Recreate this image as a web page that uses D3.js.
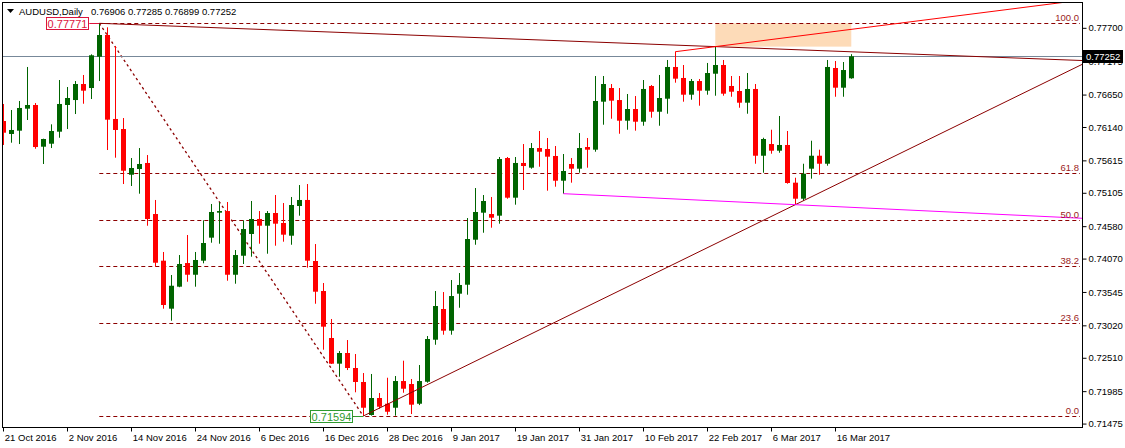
<!DOCTYPE html>
<html>
<head>
<meta charset="utf-8">
<script src="https://cdnjs.cloudflare.com/ajax/libs/d3/7.8.5/d3.min.js"></script>
<style>
  body { margin: 0; background: #fff; }
  svg { display: block; font-family: "Liberation Sans", Arial, sans-serif; }
</style>
</head>
<body>
<script>
const symbol = 'AUDUSD,Daily';
const firstDay = new Date(2016, 9, 21);

const openP = [0.76234,0.76030,0.76082,0.76428,0.76486,0.75830,0.75877,0.76066,0.76486,0.76564,
  0.76816,0.76753,0.77246,0.77587,0.76266,0.76108,0.75389,0.75479,0.75574,0.74771,
  0.74037,0.73282,0.73628,0.74000,0.73816,0.74037,0.74399,0.74792,0.74818,0.73816,
  0.74115,0.74457,0.74693,0.74587,0.74787,0.74630,0.74430,0.74897,0.74992,0.74032,
  0.73560,0.72821,0.72417,0.72585,0.72349,0.72129,0.71610,0.71877,0.71787,0.71724,
  0.72144,0.72097,0.71787,0.72133,0.72794,0.73277,0.72936,0.73518,0.73659,0.74367,
  0.74792,0.74771,0.74745,0.75652,0.75028,0.75574,0.75500,0.75809,0.75794,0.75684,
  0.75295,0.75558,0.75484,0.75825,0.75783,0.76538,0.76753,0.76564,0.76239,0.76423,
  0.76223,0.76785,0.76380,0.76585,0.77084,0.76911,0.76648,0.76863,0.76711,0.76978,
  0.77115,0.76785,0.76706,0.76522,0.76738,0.75688,0.75872,0.75767,0.75857,0.75264,
  0.75012,0.75484,0.75688,0.75562,0.77068,0.76758,0.76906];
const highP = [0.76502,0.76407,0.76549,0.77084,0.76517,0.75956,0.76182,0.76879,0.76769,0.76863,
  0.76958,0.77283,0.77771,0.77708,0.77414,0.76281,0.75652,0.75809,0.75699,0.74992,
  0.74174,0.73812,0.74126,0.74441,0.74174,0.74672,0.74929,0.74955,0.74960,0.74205,
  0.74672,0.74976,0.74818,0.74818,0.75070,0.74944,0.75039,0.75227,0.75243,0.74299,
  0.73686,0.73120,0.72616,0.72789,0.72569,0.72270,0.72255,0.71956,0.72196,0.72223,
  0.72464,0.72176,0.72396,0.72852,0.73560,0.73544,0.73733,0.73843,0.74708,0.75180,
  0.75070,0.75039,0.75668,0.75668,0.75668,0.75872,0.75888,0.76077,0.75967,0.75841,
  0.75715,0.75652,0.76045,0.75967,0.76942,0.76942,0.76816,0.76753,0.76659,0.76627,
  0.76879,0.76800,0.76958,0.77194,0.77324,0.77115,0.76895,0.76895,0.77147,0.77404,
  0.77194,0.76942,0.76942,0.76989,0.76816,0.75971,0.76097,0.76313,0.76077,0.75342,
  0.75562,0.75924,0.75783,0.77194,0.77178,0.77162,0.77285];
const lowP = [0.75857,0.75893,0.75872,0.76250,0.75798,0.75558,0.75809,0.75971,0.76108,0.76344,
  0.76506,0.76580,0.76863,0.75778,0.75657,0.75243,0.75212,0.75091,0.74587,0.73942,
  0.73282,0.73093,0.73620,0.73706,0.73628,0.73996,0.74320,0.74304,0.73722,0.73675,
  0.73985,0.74100,0.74304,0.74147,0.74273,0.74336,0.74288,0.74745,0.73927,0.73360,
  0.72637,0.72412,0.72212,0.72317,0.71967,0.71594,0.71600,0.71709,0.71614,0.71599,
  0.71960,0.71625,0.71766,0.72118,0.72715,0.72873,0.72873,0.73297,0.73502,0.74288,
  0.74477,0.74556,0.74619,0.75012,0.74918,0.75149,0.75484,0.75515,0.75138,0.75201,
  0.75091,0.75264,0.75421,0.75500,0.75751,0.76176,0.76270,0.76034,0.76097,0.76082,
  0.76160,0.76286,0.76160,0.76349,0.76837,0.76538,0.76569,0.76475,0.76648,0.76632,
  0.76632,0.76616,0.76443,0.76349,0.75562,0.75421,0.75720,0.75735,0.75248,0.74918,
  0.74980,0.75327,0.75389,0.75531,0.76616,0.76616,0.76899];
const closeP = [0.76050,0.76093,0.76439,0.76486,0.75825,0.75951,0.76077,0.76502,0.76596,0.76816,
  0.76711,0.77268,0.77587,0.76255,0.76093,0.75452,0.75495,0.75558,0.74693,0.74005,
  0.73340,0.73643,0.73985,0.73816,0.74048,0.74315,0.74803,0.74818,0.73816,0.74126,
  0.74535,0.74693,0.74587,0.74787,0.74619,0.74446,0.74913,0.74992,0.74037,0.73549,
  0.72999,0.72417,0.72585,0.72349,0.72129,0.71724,0.71877,0.71740,0.71661,0.72144,
  0.72023,0.71772,0.72144,0.72805,0.73324,0.72936,0.73481,0.73655,0.74378,0.74803,
  0.74976,0.74713,0.75636,0.75028,0.75574,0.75526,0.75809,0.75751,0.75673,0.75295,
  0.75448,0.75484,0.75809,0.75783,0.76549,0.76816,0.76554,0.76239,0.76423,0.76223,
  0.76738,0.76380,0.76596,0.77084,0.76900,0.76648,0.76863,0.76711,0.76989,0.77115,
  0.76664,0.76695,0.76522,0.76738,0.75688,0.75951,0.75767,0.75857,0.75259,0.75012,
  0.75405,0.75688,0.75562,0.77084,0.76758,0.77036,0.77252];

const yTicks = [0.77700,0.77175,0.76650,0.76140,0.75615,0.75105,0.74580,0.74070,0.73545,0.73020,0.72510,0.71985,0.71475];
const fibLevels = [0, 23.6, 38.2, 50, 61.8, 100];
const fibHigh = [12, 0.77771];
const fibLow = [45, 0.71594];
const trendDown = [[12, 0.77771], [89, 0.77404]];
const trendUp = [[45, 0.71594], [99, 0.74918]];
const trendMagenta = [[70, 0.75091], [99, 0.74918]];
const trendRed = [[84, 0.77324], [89, 0.77404]];
const zone = [[89, 0.77404], [106, 0.77771]];

(function () {
  const W = 1125, H = 448
  const L = 2, T = 2, R = 1082, B = 427
  const n = openP.length

  // weekday bars
  const dates = []
  let d = new Date(firstDay)
  while (dates.length < n) {
    if (d.getDay() !== 0 && d.getDay() !== 6) dates.push(new Date(d))
    d = d3.timeDay.offset(d, 1)
  }
  const fmt = d3.timeFormat('%-d %b %Y')

  const x = d3.scaleLinear().domain([0, n - 1]).range([3.3, 3.3 + 8 * (n - 1)])
  const y = d3.scaleLinear().domain([0.71594, 0.77771]).range([416, 23.3])

  const svg = d3.select('body').append('svg')
                .attr('width', W).attr('height', H)

  svg.append('defs').append('clipPath').attr('id', 'plot')
     .append('rect').attr('x', L + 1).attr('y', T + 1).attr('width', R - L - 1).attr('height', B - T - 1)

  const g = svg.append('g').attr('clip-path', 'url(#plot)')

  // rectangle zone
  g.append('rect')
   .attr('x', x(zone[0][0])).attr('y', y(zone[1][1]))
   .attr('width', x(zone[1][0]) - x(zone[0][0]))
   .attr('height', y(zone[0][1]) - y(zone[1][1]))
   .attr('fill', '#fddbb8')

  // fibo levels
  const fibPrice = lv => fibLow[1] + (fibHigh[1] - fibLow[1]) * lv / 100
  g.selectAll('line.fib').data(fibLevels).enter().append('line')
   .attr('x1', x(fibHigh[0])).attr('x2', R - 2)
   .attr('y1', lv => Math.round(y(fibPrice(lv))) + 0.5)
   .attr('y2', lv => Math.round(y(fibPrice(lv))) + 0.5)
   .attr('stroke', '#8b0000').attr('stroke-dasharray', '4,3')
  svg.selectAll('text.fib').data(fibLevels).enter().append('text')
     .attr('x', R - 3).attr('y', lv => Math.round(y(fibPrice(lv))) - 2)
     .attr('text-anchor', 'end').attr('font-size', '9.5px').attr('fill', '#9b1c1c')
     .text(lv => lv.toFixed(1))

  g.append('line')
   .attr('x1', x(fibHigh[0])).attr('y1', y(fibHigh[1]))
   .attr('x2', x(fibLow[0])).attr('y2', y(fibLow[1]))
   .attr('stroke', '#8b0000').attr('stroke-width', 1.3).attr('stroke-dasharray', '2.5,3')

  // bid line
  const last = closeP[n - 1]
  g.append('line')
   .attr('x1', L).attr('x2', R)
   .attr('y1', Math.round(y(last)) + 0.5).attr('y2', Math.round(y(last)) + 0.5)
   .attr('stroke', '#778899')

  // candles
  const bars = g.selectAll('g.bar').data(d3.range(n)).enter().append('g')
  const col = i => closeP[i] >= openP[i] ? '#006400' : '#ff0000'
  bars.append('rect')
      .attr('x', i => Math.round(x(i)))
      .attr('y', i => y(highP[i]))
      .attr('width', 1)
      .attr('height', i => y(lowP[i]) - y(highP[i]))
      .attr('fill', col)
  bars.append('rect')
      .attr('x', i => Math.round(x(i)) - 2)
      .attr('y', i => y(Math.max(openP[i], closeP[i])))
      .attr('width', 5)
      .attr('height', i => Math.max(1, Math.abs(y(openP[i]) - y(closeP[i]))))
      .attr('fill', col)

  // trend lines, extended to the right border
  const ray = (pts, color) => {
    const x1 = x(pts[0][0]), y1 = y(pts[0][1])
    const x2 = x(pts[1][0]), y2 = y(pts[1][1])
    const k = (y2 - y1) / (x2 - x1)
    g.append('line')
     .attr('x1', x1).attr('y1', y1)
     .attr('x2', R).attr('y2', y1 + k * (R - x1))
     .attr('stroke', color).attr('stroke-width', 1)
  }
  ray(trendDown, '#8b0000')
  ray(trendUp, '#8b0000')
  ray(trendMagenta, '#ff00ff')
  ray(trendRed, '#ff0000')

  // price labels at the extremes
  const priceTag = (pt, color) => {
    const px = x(pt[0]), py = y(pt[1])
    svg.append('line')
       .attr('x1', px - 10).attr('x2', px)
       .attr('y1', Math.round(py) + 0.5).attr('y2', Math.round(py) + 0.5)
       .attr('stroke', color)
    svg.append('rect')
       .attr('x', Math.round(px) - 52.5).attr('y', Math.round(py) - 5.5)
       .attr('width', 42).attr('height', 12)
       .attr('fill', '#fff').attr('stroke', color)
    svg.append('text')
       .attr('x', Math.round(px) - 31.5).attr('y', Math.round(py) + 4.5)
       .attr('text-anchor', 'middle').attr('font-size', '11px').attr('fill', color)
       .text(pt[1].toFixed(5))
  }
  priceTag(fibHigh, '#dc143c')
  priceTag(fibLow, '#2e9a2e')

  // frame
  svg.append('rect')
     .attr('x', L + 0.5).attr('y', T + 0.5)
     .attr('width', R - L).attr('height', B - T)
     .attr('fill', 'none').attr('stroke', '#000')

  // axes
  const yAxis = svg.append('g')
                   .attr('transform', `translate(${R + 0.5},0)`)
                   .call(d3.axisRight(y).tickValues(yTicks).tickFormat(d3.format('.5f')).tickSize(4).tickPadding(2))
  yAxis.select('.domain').remove()
  yAxis.selectAll('text').attr('font-size', '9.5px').attr('fill', '#000').attr('font-family', null)

  const xTicks = d3.range(0, n, 8)
  const xAxis = svg.append('g')
                   .attr('transform', `translate(0,${B + 0.5})`)
                   .call(d3.axisBottom(x).tickValues(xTicks).tickFormat(i => fmt(dates[i])).tickSize(4).tickPadding(3))
  xAxis.select('.domain').remove()
  xAxis.selectAll('.tick line').attr('transform', 'translate(-0.3,0)')
  xAxis.selectAll('text').attr('text-anchor', 'start').attr('x', 1)
       .attr('font-size', '9.5px').attr('fill', '#000').attr('font-family', null)

  // current price tag on the axis
  const ly = Math.round(y(last))
  svg.append('rect').attr('x', R + 1).attr('y', ly - 6).attr('width', 40).attr('height', 13).attr('fill', '#000')
  svg.append('text').attr('x', R + 4).attr('y', ly + 4).attr('font-size', '9.5px').attr('fill', '#fff')
     .text(last.toFixed(5))

  // header
  svg.append('path').attr('d', 'M7,9 L14,9 L10.5,13 Z').attr('fill', '#000')
  svg.append('text').attr('x', 19).attr('y', 15).attr('font-size', '9.5px').text(symbol)
  svg.append('text').attr('x', 91).attr('y', 15).attr('font-size', '9.5px')
     .text([openP[n - 1], highP[n - 1], lowP[n - 1], closeP[n - 1]].map(v => v.toFixed(5)).join(' '))
})()
</script>
</body>
</html>
